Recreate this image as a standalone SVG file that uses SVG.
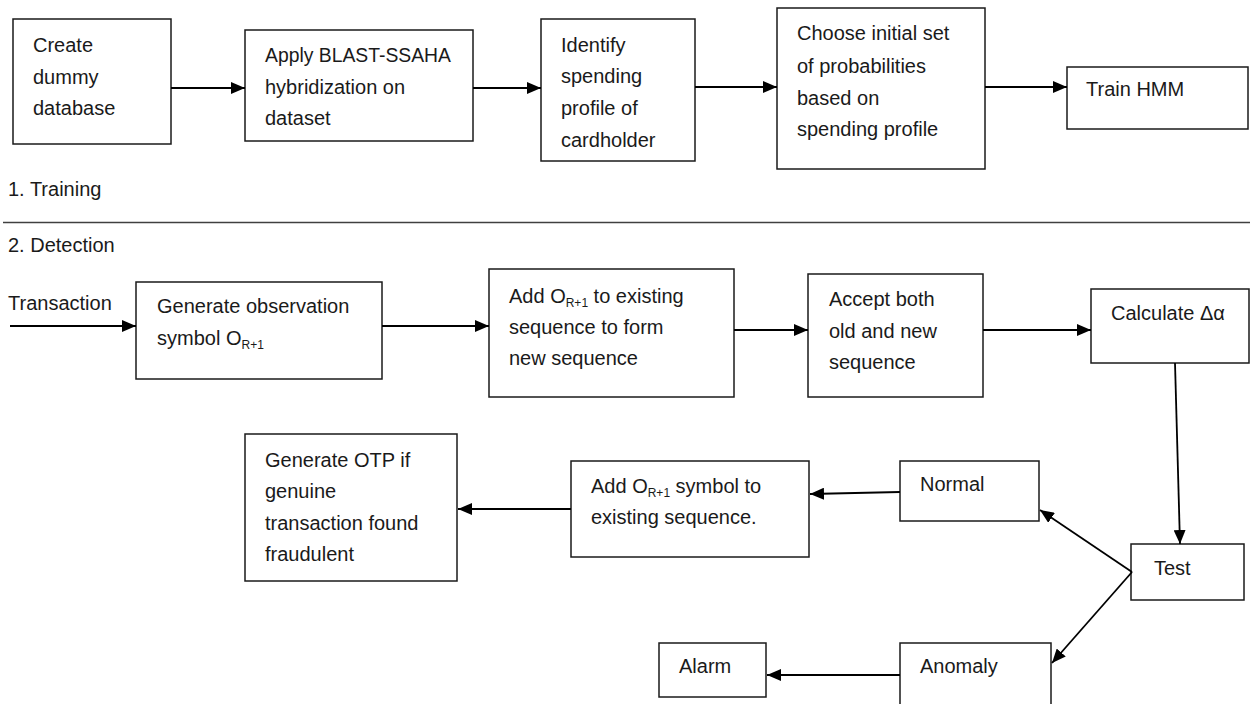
<svg xmlns="http://www.w3.org/2000/svg" width="1250" height="704" viewBox="0 0 1250 704">
<defs>
<marker id="arr" viewBox="0 0 14 12" refX="14" refY="6" markerWidth="14" markerHeight="12" orient="auto" markerUnits="userSpaceOnUse">
<path d="M0,0 L14,6 L0,12 z" fill="#000"/>
</marker>
<style>
.box{fill:#fff;stroke:#1a1a1a;stroke-width:1.5}
.t{font-family:"Liberation Sans",Arial,sans-serif;font-size:20px;fill:#1a1a1a}
.sub{font-size:12px}
.c line{stroke:#000;stroke-width:1.8;marker-end:url(#arr)}
</style>
</defs>
<rect width="1250" height="704" fill="#fff"/>

<g id="n-create"><rect class="box" x="13" y="19" width="158" height="125"/>
<text class="t" x="33" y="52">Create</text><text class="t" x="33" y="84">dummy</text><text class="t" x="33" y="115">database</text></g>

<g id="n-blast"><rect class="box" x="245" y="30" width="228" height="111"/>
<text class="t" x="265" y="62" textLength="186" lengthAdjust="spacingAndGlyphs">Apply BLAST-SSAHA</text><text class="t" x="265" y="94">hybridization on</text><text class="t" x="265" y="125">dataset</text></g>

<g id="n-identify"><rect class="box" x="541" y="19" width="154" height="142"/>
<text class="t" x="561" y="52">Identify</text><text class="t" x="561" y="83">spending</text><text class="t" x="561" y="115">profile of</text><text class="t" x="561" y="147">cardholder</text></g>

<g id="n-choose"><rect class="box" x="777" y="8" width="208" height="161"/>
<text class="t" x="797" y="40">Choose initial set</text><text class="t" x="797" y="73">of probabilities</text><text class="t" x="797" y="105">based on</text><text class="t" x="797" y="136">spending profile</text></g>

<g id="n-train"><rect class="box" x="1067" y="67" width="181" height="62"/>
<text class="t" x="1086" y="96">Train HMM</text></g>

<text class="t" x="8" y="196">1. Training</text>
<line x1="3" y1="222.5" x2="1250" y2="222.5" stroke="#404040" stroke-width="1.5"/>
<text class="t" x="8" y="252">2. Detection</text>
<text class="t" x="8" y="310">Transaction</text>

<g id="n-generate"><rect class="box" x="136" y="282" width="246" height="97"/>
<text class="t" x="157" y="313">Generate observation</text>
<text class="t" x="157" y="345">symbol O<tspan class="sub" dy="4">R+1</tspan></text></g>

<g id="n-add"><rect class="box" x="489" y="269" width="245" height="128"/>
<text class="t" x="509" y="303">Add O<tspan class="sub" dy="4">R+1</tspan><tspan dy="-4"> to existing</tspan></text>
<text class="t" x="509" y="334">sequence to form</text><text class="t" x="509" y="365">new sequence</text></g>

<g id="n-accept"><rect class="box" x="808" y="274" width="175" height="123"/>
<text class="t" x="829" y="306">Accept both</text><text class="t" x="829" y="338">old and new</text><text class="t" x="829" y="369">sequence</text></g>

<g id="n-calc"><rect class="box" x="1091" y="289" width="158" height="74"/>
<text class="t" x="1111" y="320">Calculate Δα</text></g>

<g id="n-otp"><rect class="box" x="245" y="434" width="212" height="147"/>
<text class="t" x="265" y="467">Generate OTP if</text><text class="t" x="265" y="498">genuine</text><text class="t" x="265" y="530">transaction found</text><text class="t" x="265" y="561">fraudulent</text></g>

<g id="n-add2"><rect class="box" x="571" y="461" width="238" height="96"/>
<text class="t" x="591" y="493">Add O<tspan class="sub" dy="4">R+1</tspan><tspan dy="-4"> symbol to</tspan></text>
<text class="t" x="591" y="524">existing sequence.</text></g>

<g id="n-normal"><rect class="box" x="900" y="461" width="139" height="60"/>
<text class="t" x="920" y="491">Normal</text></g>

<g id="n-test"><rect class="box" x="1131" y="544" width="113" height="56"/>
<text class="t" x="1154" y="575">Test</text></g>

<g id="n-anomaly"><rect class="box" x="900" y="643" width="151" height="70"/>
<text class="t" x="920" y="673">Anomaly</text></g>

<g id="n-alarm"><rect class="box" x="659" y="643" width="107" height="54"/>
<text class="t" x="679" y="673">Alarm</text></g>

<g class="c" id="connectors">
<line x1="171" y1="88" x2="245" y2="88"/>
<line x1="473" y1="88" x2="541" y2="88"/>
<line x1="695" y1="87" x2="777" y2="87"/>
<line x1="985" y1="87" x2="1067" y2="87"/>
<line x1="10" y1="326" x2="136" y2="326"/>
<line x1="382" y1="326" x2="489" y2="326"/>
<line x1="734" y1="330" x2="808" y2="330"/>
<line x1="983" y1="330" x2="1091" y2="330"/>
<line x1="1175" y1="363" x2="1180" y2="544"/>
<line x1="1132" y1="572" x2="1040" y2="510"/>
<line x1="1132" y1="572" x2="1052" y2="663"/>
<line x1="900" y1="492" x2="810" y2="494"/>
<line x1="571" y1="509" x2="458" y2="509"/>
<line x1="900" y1="675" x2="767" y2="675"/>
</g>
</svg>
